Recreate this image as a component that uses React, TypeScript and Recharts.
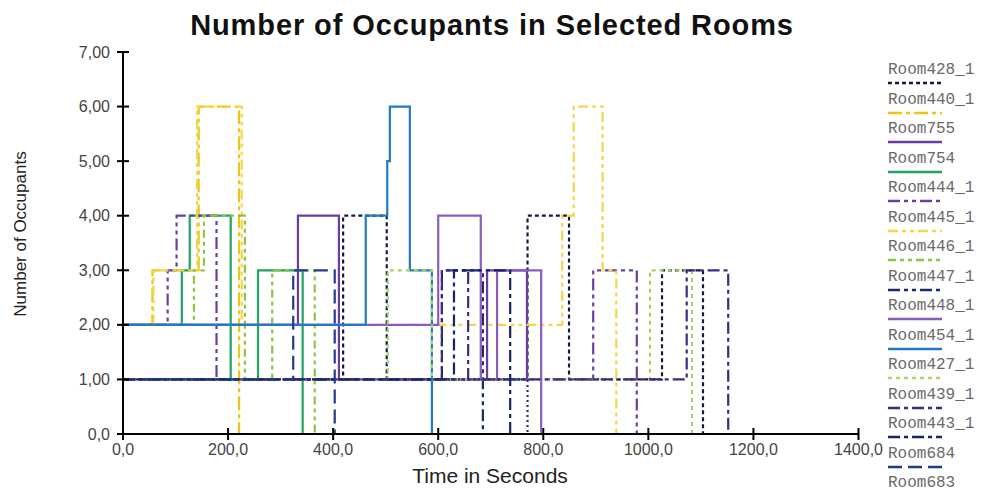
import React from 'react';
import { LineChart, Line, XAxis, YAxis } from 'recharts';

// ---- data: [time in seconds, number of occupants] step points ----
const room428_1 = [[0, 1], [419, 4], [502, 1], [770, 4], [849, 1], [1026, 3], [1104, 0]];
const room440_1 = [[0, 2], [56, 3], [144, 6], [221, 0]];
const room755 = [[0, 2], [333, 4], [411, 1], [693, 3], [769, 1]];
const room754 = [[0, 2], [112, 3], [127, 4], [205, 1], [257, 3], [342, 0]];
const room444_1 = [[0, 2], [85, 3], [102, 4], [178, 1], [895, 3], [978, 0]];
const room445_1 = [[0, 2], [58, 3], [141, 6], [226, 2], [836, 4], [858, 6], [913, 3], [939, 0]];
const room446_1 = [[0, 2], [135, 3], [154, 4], [232, 1], [284, 3], [365, 0]];
const room447_1 = [[0, 1], [607, 3], [685, 0]];
const room448_1 = [[0, 2], [600, 4], [681, 1], [712, 3], [796, 0]];
const room454_1 = [[0, 2], [462, 4], [503, 5], [508, 6], [546, 3], [588, 0]];
const room427_1 = [[0, 1], [504, 3], [588, 1], [1003, 3], [1083, 0]];
const room439_1 = [[0, 1], [607, 3], [657, 1], [1073, 3], [1152, 0]];
const room443_1 = [[0, 1], [630, 3], [737, 0]];
const room684 = [[0, 1], [324, 3], [403, 0]];
const room683 = [[0, 1], [770, 0]];

const seriesNames = [
  'Room428_1', 'Room440_1', 'Room755', 'Room754', 'Room444_1', 'Room445_1', 'Room446_1',
  'Room447_1', 'Room448_1', 'Room454_1', 'Room427_1', 'Room439_1', 'Room443_1', 'Room684', 'Room683',
];
const seriesValues = [
  room428_1, room440_1, room755, room754, room444_1, room445_1, room446_1,
  room447_1, room448_1, room454_1, room427_1, room439_1, room443_1, room684, room683,
];

const xTicks = [0, 200, 400, 600, 800, 1000, 1200, 1400];
const xTickLabels = ['0,0', '200,0', '400,0', '600,0', '800,0', '1000,0', '1200,0', '1400,0'];
const yTicks = [0, 1, 2, 3, 4, 5, 6, 7];
const yTickLabels = ['0,0', '1,00', '2,00', '3,00', '4,00', '5,00', '6,00', '7,00'];

const titleText = 'Number of Occupants in Selected Rooms';
const xAxisTitle = 'Time in Seconds';
const yAxisTitle = 'Number of Occupants';

// ---- styles ----
const seriesStyles = [
  { color: '#171a3c', dash: '4 3' },
  { color: '#f2c30f', dash: '14 4 4 4' },
  { color: '#6a3d9e', dash: undefined },
  { color: '#22a366', dash: undefined },
  { color: '#6a3fa5', dash: '12 4 4 4 4 4' },
  { color: '#f3d54e', dash: '10 4 4 4 4 4' },
  { color: '#8cc63f', dash: '8 4 4 4 4 4' },
  { color: '#1b2a6b', dash: '12 4 4 4 4 4' },
  { color: '#8a5cc0', dash: undefined },
  { color: '#2379c3', dash: undefined },
  { color: '#a9d26a', dash: '4 4' },
  { color: '#3b2d80', dash: '12 4 4 4' },
  { color: '#16246a', dash: '12 4 4 4' },
  { color: '#1f3c88', dash: '14 6' },
  { color: '#26346e', dash: '2 3' },
];

const tickFont = '"Liberation Sans", Arial, sans-serif';

const YTick = (props: any) => {
  const { x, y, payload } = props;
  const i = yTicks.indexOf(payload.value);
  return (
    <g>
      <line x1={x - 6} x2={x + 6} y1={y} y2={y} stroke="#000" strokeWidth={2} />
      <text x={x - 13} y={y} textAnchor="end" dominantBaseline="central" fontSize={16} fill="#444" fontFamily={tickFont}>
        {yTickLabels[i]}
      </text>
    </g>
  );
};

const XTick = (props: any) => {
  const { x, y, payload } = props;
  const i = xTicks.indexOf(payload.value);
  return (
    <g>
      <line x1={x} x2={x} y1={y - 6} y2={y + 6} stroke="#000" strokeWidth={2} />
      <text x={x} y={y + 15} textAnchor="middle" dominantBaseline="central" fontSize={16} fill="#444" fontFamily={tickFont}>
        {xTickLabels[i]}
      </text>
    </g>
  );
};

export default function App() {
  const W = 991;
  const H = 493;
  return (
    <div style={{ position: 'absolute', left: 0, top: 0, width: W, height: H, overflow: 'hidden', background: '#fff' }}>
      <div
        style={{
          position: 'absolute', left: 0, top: 8, width: 984, textAlign: 'center',
          fontFamily: tickFont, fontWeight: 'bold', fontSize: 29, letterSpacing: 0.9, color: '#111', lineHeight: '34px',
        }}
      >
        {titleText}
      </div>
      <LineChart width={W} height={H} margin={{ top: 52, right: 132.5, bottom: 0, left: 0 }}>
        <XAxis
          type="number"
          dataKey="t"
          domain={[0, 1400]}
          ticks={xTicks}
          height={59}
          tickSize={0}
          tickMargin={0}
          tickLine={false}
          axisLine={{ stroke: '#000', strokeWidth: 2 }}
          tick={<XTick />}
          interval={0}
        />
        <YAxis
          type="number"
          domain={[0, 7]}
          ticks={yTicks}
          width={123}
          tickSize={0}
          tickMargin={0}
          tickLine={false}
          axisLine={{ stroke: '#000', strokeWidth: 2 }}
          tick={<YTick />}
          interval={0}
        />
        {seriesValues.map((vals, i) => (
          <Line
            key={seriesNames[i]}
            name={seriesNames[i]}
            data={vals.map(([t, v]) => ({ t, v }))}
            dataKey="v"
            type="stepAfter"
            stroke={seriesStyles[i].color}
            strokeDasharray={seriesStyles[i].dash}
            strokeWidth={2.2}
            dot={false}
            activeDot={false}
            isAnimationActive={false}
          />
        ))}
      </LineChart>
      <div
        style={{
          position: 'absolute', left: 21 - 100, top: 234 - 12, width: 200, height: 24, lineHeight: '24px',
          textAlign: 'center', transform: 'rotate(-90deg)', fontFamily: tickFont, fontSize: 17, color: '#222',
        }}
      >
        {yAxisTitle}
      </div>
      <div
        style={{
          position: 'absolute', left: 390, top: 463, width: 200, height: 26, lineHeight: '26px',
          textAlign: 'center', fontFamily: tickFont, fontSize: 21, color: '#222',
        }}
      >
        {xAxisTitle}
      </div>
      {seriesNames.map((name, i) => {
        const cy = 70 + i * 29.5;
        const st = seriesStyles[i];
        return (
          <React.Fragment key={name}>
            <div
              style={{
                position: 'absolute', left: 888, top: cy - 10, height: 20, lineHeight: '20px',
                fontFamily: '"Courier New", "Liberation Mono", monospace', fontSize: 16, color: '#6a6a6a', whiteSpace: 'nowrap',
              }}
            >
              {name}
            </div>
            <svg style={{ position: 'absolute', left: 888, top: cy + 10 }} width={56} height={6}>
              <line x1={0} x2={54} y1={3} y2={3} stroke={st.color} strokeWidth={2.5} strokeDasharray={st.dash} />
            </svg>
          </React.Fragment>
        );
      })}
    </div>
  );
}
